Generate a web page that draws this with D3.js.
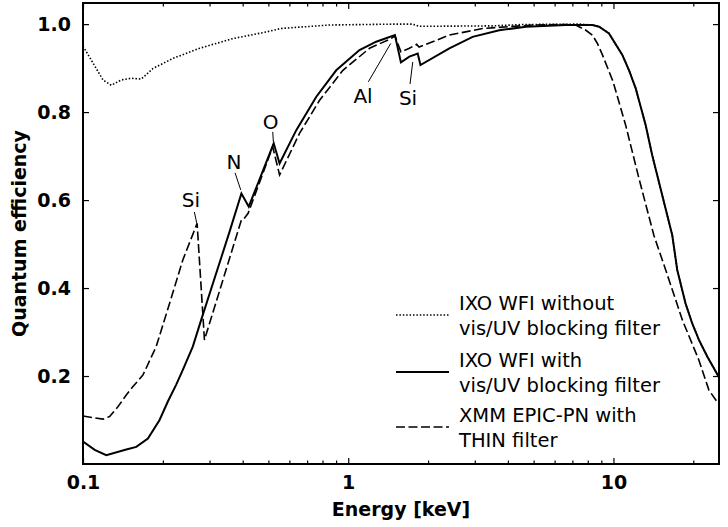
<!DOCTYPE html>
<html>
<head>
<meta charset="utf-8">
<script src="https://cdn.jsdelivr.net/npm/d3@7"></script>
<style>
  html, body { margin: 0; padding: 0; background: #fff; }
  svg { display: block; }
</style>
</head>
<body>
<script>
// ---------------- data ----------------
const noFilterE  = [0.1, 0.1122, 0.119, 0.1278, 0.1394, 0.152, 0.1658, 0.1834, 0.2182, 0.2749, 0.367, 0.4898, 0.557, 0.851, 1.5, 1.75, 1.85, 3.5, 4.5, 7.5, 8.33, 8.83, 9.62, 10.8, 11.45, 12.13, 13.23, 14.0, 16.66, 17.4, 18.7, 19.8, 21.0, 22.6, 25];
const noFilterQE = [0.950, 0.899, 0.873, 0.861, 0.873, 0.877, 0.875, 0.899, 0.922, 0.945, 0.967, 0.982, 0.990, 0.998, 1.0, 1.0, 0.995, 0.996, 0.999, 1.0, 0.998, 0.994, 0.979, 0.930, 0.895, 0.854, 0.770, 0.702, 0.520, 0.441, 0.365, 0.320, 0.282, 0.244, 0.197];

const withFilterE  = [0.1, 0.1107, 0.1224, 0.1456, 0.1588, 0.1757, 0.1944, 0.2089, 0.2244, 0.2379, 0.2594, 0.2788, 0.3176, 0.3565, 0.3956, 0.4217, 0.5236, 0.551, 0.637, 0.758, 0.901, 1.103, 1.275, 1.50, 1.58, 1.70, 1.828, 1.872, 2.406, 2.944, 3.71, 4.68, 6.61, 8.33, 8.83, 9.62, 10.8, 11.45, 12.13, 13.23, 14.0, 16.66, 17.4, 18.7, 19.8, 21.0, 22.6, 25];
const withFilterQE = [0.051, 0.032, 0.020, 0.033, 0.039, 0.058, 0.100, 0.142, 0.180, 0.214, 0.267, 0.327, 0.433, 0.527, 0.615, 0.585, 0.729, 0.683, 0.759, 0.835, 0.895, 0.941, 0.960, 0.975, 0.913, 0.926, 0.933, 0.907, 0.945, 0.971, 0.986, 0.994, 0.998, 0.998, 0.994, 0.979, 0.930, 0.895, 0.854, 0.770, 0.702, 0.520, 0.441, 0.365, 0.320, 0.282, 0.244, 0.197];

const xmmE  = [0.1, 0.119, 0.126, 0.1354, 0.1456, 0.1543, 0.1682, 0.1888, 0.212, 0.2379, 0.2693, 0.287, 0.3956, 0.4050, 0.4193, 0.519, 0.551, 0.6557, 0.780, 0.955, 1.203, 1.448, 1.50, 1.58, 1.70, 1.81, 1.85, 2.406, 3.21, 5.0, 6.61, 7.21, 7.87, 8.33, 8.7, 9.09, 9.97, 11.12, 12.48, 14.2, 15.74, 18.2, 21.0, 22.9, 25];
const xmmQE = [0.109, 0.102, 0.108, 0.130, 0.157, 0.176, 0.202, 0.267, 0.365, 0.464, 0.547, 0.282, 0.555, 0.558, 0.570, 0.721, 0.657, 0.752, 0.827, 0.895, 0.945, 0.967, 0.973, 0.937, 0.945, 0.954, 0.948, 0.975, 0.990, 0.998, 0.999, 0.998, 0.986, 0.975, 0.956, 0.930, 0.869, 0.770, 0.649, 0.520, 0.441, 0.327, 0.236, 0.168, 0.135];

const xMajorTicks = [0.1, 1, 10];
const xTickLabels = ["0.1", "1", "10"];
const xMinorTicks = [0.2, 0.3, 0.4, 0.5, 0.6, 0.7, 0.8, 0.9, 2, 3, 4, 5, 6, 7, 8, 9, 20];
const yTicks = [0.2, 0.4, 0.6, 0.8, 1.0];
const yTickLabels = ["0.2", "0.4", "0.6", "0.8", "1.0"];

// annotations: label, label position (E, QE), leader line (E1,QE1)->(E2,QE2)
const annoLabels = ["Si", "N", "O", "Al", "Si"];
const annoTextE  = [0.2554, 0.3710, 0.5094, 1.137, 1.681];
const annoTextQE = [0.600, 0.686, 0.778, 0.8375, 0.833];
const annoE1  = [0.2629, 0.3743, 0.5193, 1.191, 1.710];
const annoQE1 = [0.573, 0.662, 0.755, 0.869, 0.8636];
const annoE2  = [0.2684, 0.3933, 0.5220, 1.446, 1.751];
const annoQE2 = [0.548, 0.623, 0.7325, 0.956, 0.914];

const legendLines1 = ["IXO WFI without", "IXO WFI with", "XMM EPIC-PN with"];
const legendLines2 = ["vis/UV blocking filter", "vis/UV blocking filter", "THIN filter"];

// ---------------- layout ----------------
const W = 728, H = 527;
const L = 83, R = 719, T = 3, B = 464;

const svg = d3.select("body").append("svg").attr("width", W).attr("height", H);

const x = d3.scaleLog().domain([0.1, 25]).range([L, R]);
const y = d3.scaleLinear().domain([0, 1.048]).range([B, T]);

svg.append("defs").append("clipPath").attr("id", "clip")
  .append("rect").attr("x", L).attr("y", T).attr("width", R - L).attr("height", B - T);

const FONT = "DejaVu Sans, Liberation Sans, sans-serif";

// series
const series = [
  { E: noFilterE, Q: noFilterQE, dash: "1.5,1.9", w: 1.6 },
  { E: withFilterE, Q: withFilterQE, dash: null, w: 2 },
  { E: xmmE, Q: xmmQE, dash: "9,3.5", w: 1.6 }
];
const line = d3.line().x(d => x(d[0])).y(d => y(d[1]));
const g = svg.append("g").attr("clip-path", "url(#clip)");
series.forEach(s => {
  g.append("path")
    .attr("d", line(s.E.map((e, i) => [e, s.Q[i]])))
    .attr("fill", "none").attr("stroke", "#000")
    .attr("stroke-width", s.w)
    .attr("stroke-linejoin", "miter")
    .attr("stroke-dasharray", s.dash);
});

// axes
const tickStyle = sel => sel.attr("stroke", "#000").attr("stroke-width", 1.2);
const bottomAxis = d3.axisBottom(x).tickValues(xMajorTicks).tickSize(-6).tickFormat((d, i) => xTickLabels[i]).tickPadding(12);
const ax = svg.append("g").attr("transform", `translate(0,${B})`).call(bottomAxis);
ax.select(".domain").remove();
ax.selectAll("line").call(tickStyle);
ax.selectAll("text").attr("font-family", FONT).attr("font-weight", "bold").attr("font-size", 19).attr("fill", "#000");
const axm = svg.append("g").attr("transform", `translate(0,${B})`).call(d3.axisBottom(x).tickValues(xMinorTicks).tickSize(-3.5).tickFormat(""));
axm.select(".domain").remove(); axm.selectAll("line").call(tickStyle);

const topMaj = svg.append("g").attr("transform", `translate(0,${T})`).call(d3.axisTop(x).tickValues(xMajorTicks).tickSize(-6).tickFormat(""));
topMaj.select(".domain").remove(); topMaj.selectAll("line").call(tickStyle);
const topMin = svg.append("g").attr("transform", `translate(0,${T})`).call(d3.axisTop(x).tickValues(xMinorTicks).tickSize(-3.5).tickFormat(""));
topMin.select(".domain").remove(); topMin.selectAll("line").call(tickStyle);

const leftAxis = d3.axisLeft(y).tickValues(yTicks).tickSize(-6).tickFormat((d, i) => yTickLabels[i]).tickPadding(12);
const ay = svg.append("g").attr("transform", `translate(${L},0)`).call(leftAxis);
ay.select(".domain").remove();
ay.selectAll("line").call(tickStyle);
ay.selectAll("text").attr("font-family", FONT).attr("font-weight", "bold").attr("font-size", 19).attr("fill", "#000");
const ayr = svg.append("g").attr("transform", `translate(${R},0)`).call(d3.axisRight(y).tickValues(yTicks).tickSize(-6).tickFormat(""));
ayr.select(".domain").remove(); ayr.selectAll("line").call(tickStyle);

// frame
svg.append("rect").attr("x", L).attr("y", T).attr("width", R - L).attr("height", B - T)
  .attr("fill", "none").attr("stroke", "#000").attr("stroke-width", 2);

// axis titles
svg.append("text").attr("x", (L + R) / 2).attr("y", 516).attr("text-anchor", "middle")
  .attr("font-family", FONT).attr("font-weight", "bold").attr("font-size", 19).text("Energy [keV]");
svg.append("text").attr("transform", `translate(26,${(T + B) / 2}) rotate(-90)`).attr("text-anchor", "middle")
  .attr("font-family", FONT).attr("font-weight", "bold").attr("font-size", 19).text("Quantum efficiency");

// annotations
annoLabels.forEach((lab, i) => {
  svg.append("line")
    .attr("x1", x(annoE1[i])).attr("y1", y(annoQE1[i]))
    .attr("x2", x(annoE2[i])).attr("y2", y(annoQE2[i]))
    .attr("stroke", "#000").attr("stroke-width", 1);
  svg.append("text").attr("x", x(annoTextE[i])).attr("y", y(annoTextQE[i])).attr("dy", "0.36em")
    .attr("text-anchor", "middle").attr("font-family", FONT).attr("font-size", 20).text(lab);
});

// legend
const legY = [315, 372, 427];
series.forEach((s, i) => {
  svg.append("line").attr("x1", 396).attr("x2", 449).attr("y1", legY[i]).attr("y2", legY[i])
    .attr("stroke", "#000").attr("stroke-width", s.w).attr("stroke-dasharray", s.dash);
  svg.append("text").attr("x", 459).attr("y", legY[i] - 5).attr("font-family", FONT).attr("font-size", 19.5).text(legendLines1[i]);
  svg.append("text").attr("x", 459).attr("y", legY[i] + 20).attr("font-family", FONT).attr("font-size", 19.5).text(legendLines2[i]);
});
</script>
</body>
</html>
